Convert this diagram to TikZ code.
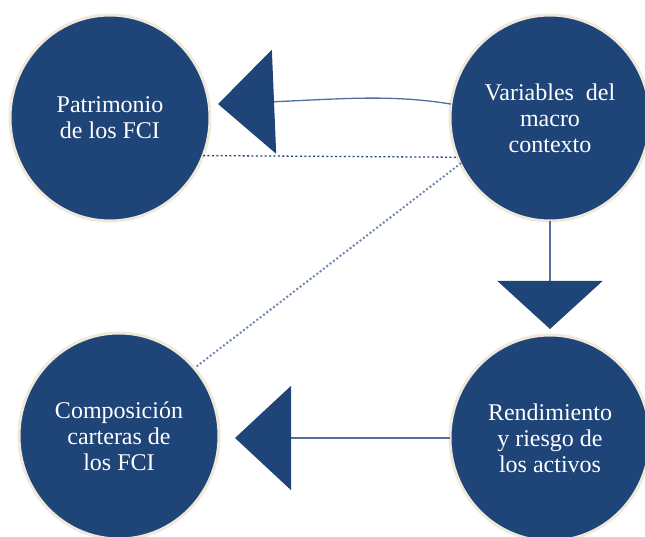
\documentclass[tikz,border=0pt]{standalone}
\usepackage{fontspec}
\setmainfont{Liberation Serif}
\usetikzlibrary{positioning, arrows.meta, shapes.geometric}
\usepackage{xcolor}
\definecolor{fcinavy}{HTML}{1F4578}
\definecolor{fcicream}{HTML}{EEE9DA}
\definecolor{fciline}{HTML}{4F6F9E}
\definecolor{fcidots}{HTML}{6F87AE}

\begin{document}
\begin{tikzpicture}[
  x=1pt, y=1pt,
  font=\rmfamily\fontsize{24}{26}\selectfont,
  node distance=114pt and 240pt,
  bubble/.style={
    ellipse, fill=fcinavy, draw=fcicream, line width=3pt,
    minimum width=200pt, minimum height=206pt, inner sep=0pt, outer sep=0pt,
    text=white, align=center
  },
  flow/.style={draw=fciline, line width=1.3pt,
    -{Triangle[length=56pt, width=104pt, color=fcinavy]}},
  flowdown/.style={flow, -{Triangle[length=48pt, width=105pt, color=fcinavy]}},
  link/.style={draw=fcinavy, line width=1.3pt, dash pattern=on 2pt off 2.4pt},
  dotlink/.style={draw=fcidots, line width=2.8pt, line cap=round,
    dash pattern=on 0pt off 4.2pt},
]
\useasboundingbox (-110,118) rectangle (535,-419);

% Top row: Patrimonio <- Variables
\node[bubble] (pat) at (0,0) {Patrimonio\\de los FCI};
\node[bubble, right=of pat] (var) {Variables \ del\\macro\\contexto};

% Bottom row: Composicion <- Rendimiento
\node[bubble, below=of var] (ren) {Rendimiento\\y riesgo de\\los activos};
\node[bubble, below=112pt of pat, xshift=9pt] (comp) {Composición\\carteras de\\los FCI};

% Dotted links between the bubbles
\draw[link]    (pat.-22) -- (var.-157);
\draw[dotlink] (var.-153) -- (comp.42);

% Arrows with the big triangle heads
\draw[flow]     (var.172) .. controls +(-60,10) and +(120,5) .. ([xshift=9pt]pat.8);
\draw[flowdown] (var.south) -- ([yshift=6pt]ren.north);
\draw[flow]     (ren.west) -- ([xshift=16pt]ren.west -| comp.east);
\end{tikzpicture}
\end{document}
